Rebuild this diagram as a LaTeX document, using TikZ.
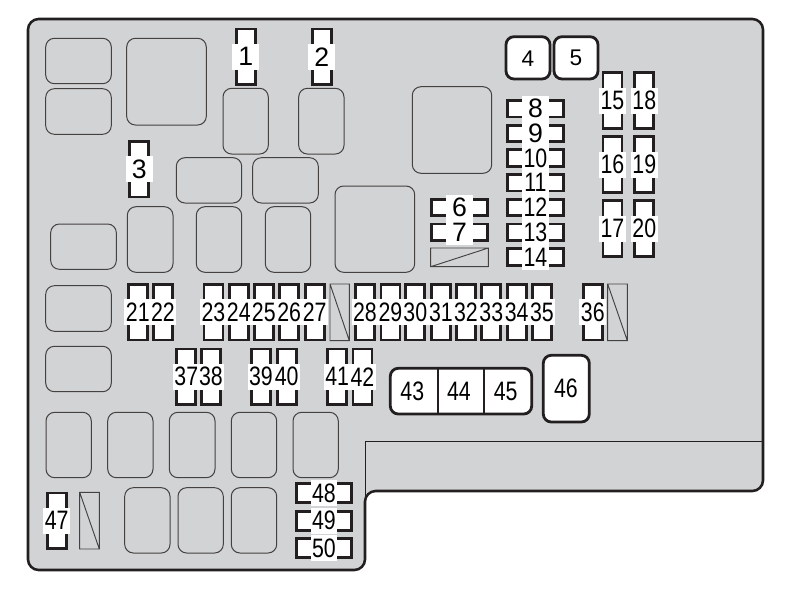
\documentclass[tikz,border=0pt]{standalone}
\usepackage{fontspec}
\newfontfamily\fusefont{Liberation Sans}
\newfontfamily\fusenarrow[FakeStretch=0.8]{Liberation Sans}
\usetikzlibrary{calc}

\definecolor{boxgray}{HTML}{D1D3D4}
\definecolor{inkblack}{HTML}{231F20}

\begin{document}
\begin{tikzpicture}[x=0.75pt,y=-0.75pt]
      \tikzset{slot/.style={draw=inkblack!85,line width=0.75pt,rounded corners=6.5pt},
        spare/.style={draw=inkblack!85,line width=0.7pt},
        fuse number/.style={fill=white,inner sep=0pt,minimum width=20pt,minimum height=19.5pt,font=\fontsize{20}{20}\selectfont\fusefont},
        wide number/.style={fuse number,font=\fontsize{20}{20}\selectfont\fusenarrow},
        fuse upright/.style={draw=inkblack,line width=2.1pt,fill=white,inner sep=0pt,
          minimum width=14.2pt,minimum height=41.6pt,label={[wide number]center:#1}},
        fuse flat/.style={draw=inkblack,line width=2.1pt,fill=white,inner sep=0pt,
          minimum width=41.6pt,minimum height=12.4pt,label={[wide number]center:#1}},
        fuse low/.style={fuse flat=#1,minimum height=14.2pt},
        block/.style={draw=inkblack,line width=2.1pt,fill=white,rounded corners=6pt,inner sep=0pt}
      }
      \useasboundingbox (0,0) rectangle (801,593);

      % housing
      \draw [draw=inkblack,fill=boxgray,line width=1.9pt,rounded corners=8pt]
      (28,19)--(763,19)--(763,491)--(365,491)--(365,570)--(28,570)--cycle;
      \draw [draw=inkblack,line width=0.75pt] (365,500)--(365,441.5)--(762,441.5);

      % empty slots
      \draw [slot] (45.7,38.3) rectangle (111.3,83.7);
      \draw [slot] (45.7,88.7) rectangle (111.3,134.3);
      \draw [slot] (126.7,38.3) rectangle (206.3,125);
      \draw [slot] (223,88.3) rectangle (268.3,154);
      \draw [slot] (298.7,88.3) rectangle (344,154);
      \draw [slot] (176.3,157.7) rectangle (241.7,203);
      \draw [slot] (252.7,157.7) rectangle (318.3,203);
      \draw [slot] (50.7,224) rectangle (116.3,269.3);
      \draw [slot] (127.3,206.7) rectangle (173,272.3);
      \draw [slot] (196.3,206.7) rectangle (241.7,272.3);
      \draw [slot] (265.3,206.7) rectangle (310.7,272.3);
      \draw [slot] (335,186) rectangle (414.7,272.3);
      \draw [slot] (412.3,86.7) rectangle (491.7,173.3);
      \draw [slot] (45.7,285.7) rectangle (111.3,331.3);
      \draw [slot] (45.7,346.3) rectangle (111.3,391.7);
      \draw [slot] (46,412.3) rectangle (91.3,477.7);
      \draw [slot] (107.7,412.3) rectangle (153,477.7);
      \draw [slot] (169.3,412.3) rectangle (215,477.7);
      \draw [slot] (231.3,412.3) rectangle (276.7,477.7);
      \draw [slot] (293,412.3) rectangle (338.3,477.7);
      \draw [slot] (124.7,487.7) rectangle (170,553);
      \draw [slot] (178,487.7) rectangle (223.3,553);
      \draw [slot] (231.3,487.7) rectangle (276.7,553);

      % spare fuses
      \draw [spare] (430.7,248) rectangle (488.3,266.7) (430.7,266.7)--(488.3,248);
      \draw [spare] (330,284) rectangle (349.3,340.7) (330,284)--(349.3,340.7);
      \draw [spare] (607.7,284) rectangle (627.3,340.7) (607.7,284)--(627.3,340.7);
      \draw [spare] (79.7,492.3) rectangle (99.3,549) (79.7,492.3)--(99.3,549);

      \node [fuse upright={\fusefont 1}] (F1) at (245.8,56.8) {};
      \node [fuse upright={\fusefont 2}] (F2) at (321.7,56.8) {};
      \node [fuse upright={\fusefont 3}] (F3) at (139.3,169.2) {};

      \node [fuse flat={\fusefont 6}] (F6) at (459.5,207.5) {};
      \node [fuse flat={\fusefont 7}] (F7) at (459.5,232.2) {};
      \node [fuse flat={\fusefont 8}] (F8) at (535.5,108.7) {};
      \node [fuse flat={\fusefont 9}] (F9) at (535.5,133.4) {};
      \node [fuse flat=10] (F10) at (535.5,158.1) {};
      \node [fuse flat=11] (F11) at (535.5,182.8) {};
      \node [fuse flat=12] (F12) at (535.5,207.5) {};
      \node [fuse flat=13] (F13) at (535.5,232.2) {};
      \node [fuse flat=14] (F14) at (535.5,257) {};

      \node [fuse upright=15] (F15) at (612.5,100.5) {};
      \node [fuse upright=16] (F16) at (612.5,164.5) {};
      \node [fuse upright=17] (F17) at (612.5,228.5) {};
      \node [fuse upright=18] (F18) at (644.3,100.5) {};
      \node [fuse upright=19] (F19) at (644.3,164.5) {};
      \node [fuse upright=20] (F20) at (644.3,228.5) {};

      \node [fuse upright=21] (F21) at (137.8,312.2) {};
      \node [fuse upright=22] (F22) at (163,312.2) {};
      \node [fuse upright=23] (F23) at (213.5,312.2) {};
      \node [fuse upright=24] (F24) at (238.8,312.2) {};
      \node [fuse upright=25] (F25) at (263.8,312.2) {};
      \node [fuse upright=26] (F26) at (289.2,312.2) {};
      \node [fuse upright=27] (F27) at (314.7,312.2) {};
      \node [fuse upright=28] (F28) at (365,312.2) {};
      \node [fuse upright=29] (F29) at (390.5,312.2) {};
      \node [fuse upright=30] (F30) at (415.3,312.2) {};
      \node [fuse upright=31] (F31) at (441,312.2) {};
      \node [fuse upright=32] (F32) at (466,312.2) {};
      \node [fuse upright=33] (F33) at (491.3,312.2) {};
      \node [fuse upright=34] (F34) at (516.7,312.2) {};
      \node [fuse upright=35] (F35) at (542,312.2) {};
      \node [fuse upright=36] (F36) at (592.8,312.2) {};

      \node [fuse upright=37] (F37) at (186.3,376.7) {};
      \node [fuse upright=38] (F38) at (211,376.7) {};
      \node [fuse upright=39] (F39) at (261,376.7) {};
      \node [fuse upright=40] (F40) at (286.7,376.7) {};
      \node [fuse upright=41] (F41) at (337.2,376.7) {};
      \node [fuse upright=42] (F42) at (362.5,376.7) {};

      \node [fuse upright=47] (F47) at (56.7,520.8) {};
      \node [fuse low=48] (F48) at (324,493.3) {};
      \node [fuse low=49] (F49) at (324,520.7) {};
      \node [fuse low=50] (F50) at (324,548) {};

      % large fuses
      \draw [block] (506,36.7) rectangle (550,79);
      \draw [block] (554,36.7) rectangle (598,79);
      \node [fuse number,fill=none,font=\fontsize{17}{17}\selectfont\fusefont] (F4) at (528,59) {4};
      \node [fuse number,fill=none,font=\fontsize{17}{17}\selectfont\fusefont] (F5) at (576,58) {5};

      \draw [block] (390.3,368.3) rectangle (531.7,414);
      \draw [draw=inkblack,line width=1.5pt] (438,368.3)--(438,414) (484.3,368.3)--(484.3,414);
      \node [wide number,fill=none] (F43) at (412.3,391.7) {43};
      \node [wide number,fill=none] (F44) at (459,391.7) {44};
      \node [wide number,fill=none] (F45) at (505.7,391.7) {45};

      \draw [block] (543.3,355.3) rectangle (589.3,422);
      \node [wide number,fill=none] (F46) at (566,388) {46};
    \end{tikzpicture}
\end{document}
